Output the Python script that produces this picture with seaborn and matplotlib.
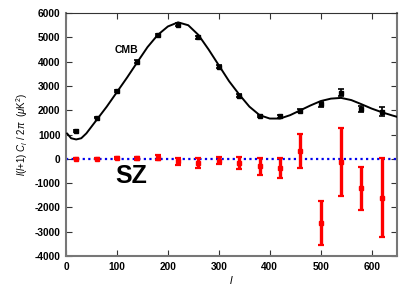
import matplotlib
matplotlib.use("Agg")
import matplotlib.pyplot as plt
import seaborn as sns
import pandas as pd
import numpy as np

# Band-power data
ell_bins = [20, 60, 100, 140, 180, 220, 260, 300, 340, 380, 420, 460, 500, 540, 580, 620]
cmb_vals = [1150, 1700, 2800, 4000, 5100, 5530, 5000, 3800, 2600, 1760, 1760, 1990, 2250, 2720, 2050, 1940]
cmb_errs = [30, 30, 40, 50, 60, 60, 60, 50, 50, 50, 60, 70, 100, 150, 130, 180]
sz_vals = [0, 0, 20, 30, 50, -100, -160, -80, -185, -300, -390, 320, -2630, -120, -1215, -1600]
sz_errs = [20, 20, 40, 60, 100, 150, 200, 150, 250, 350, 410, 690, 900, 1400, 900, 1620]

# Theory curve
curve_l = [2, 10, 20, 30, 40, 60, 80, 100, 120, 140, 160, 180, 200, 220, 240, 260, 280, 300,
           320, 340, 360, 380, 400, 420, 440, 460, 480, 500, 520, 540, 560, 580, 600, 620, 640, 650]
curve_v = [1050, 850, 800, 850, 1050, 1600, 2150, 2750, 3350, 3980, 4600, 5100, 5450, 5620, 5500,
           5100, 4500, 3850, 3200, 2650, 2150, 1800, 1660, 1660, 1800, 2000, 2200, 2380, 2480, 2510,
           2420, 2250, 2070, 1920, 1790, 1730]

xticks = [0, 100, 200, 300, 400, 500, 600]
yticks = [-4000, -3000, -2000, -1000, 0, 1000, 2000, 3000, 4000, 5000, 6000]

sns.set_theme(style="white")
plt.rcParams['font.family'] = ['Liberation Sans', 'DejaVu Sans']
plt.rcParams['mathtext.fontset'] = 'custom'
plt.rcParams['mathtext.rm'] = 'Liberation Sans'
plt.rcParams['mathtext.it'] = 'Liberation Sans:italic'
plt.rcParams['mathtext.bf'] = 'Liberation Sans:bold'
plt.rcParams['text.color'] = 'black'
plt.rcParams['axes.labelcolor'] = 'black'
plt.rcParams['xtick.color'] = 'black'
plt.rcParams['ytick.color'] = 'black'

fig = plt.figure(figsize=(4.15, 2.91), dpi=100)
ax = fig.add_axes([0.159, 0.120, 0.798, 0.835])

curve_df = pd.DataFrame({"l": curve_l, "v": curve_v})
sns.lineplot(data=curve_df, x="l", y="v", ax=ax, color="black", lw=1.4, zorder=3)

zero_df = pd.DataFrame({"l": [0, 650], "v": [0, 0]})
sns.lineplot(data=zero_df, x="l", y="v", ax=ax, color="#0000ee", lw=1.6,
             linestyle=(0, (1, 1.5)), zorder=2)

ax.errorbar(ell_bins, cmb_vals, yerr=cmb_errs, fmt="s", color="black", ms=3.5,
            elinewidth=1.2, capsize=2.5, capthick=1.2, zorder=4)
ax.errorbar(ell_bins, sz_vals, yerr=sz_errs, fmt="s", color="#ff0000", ms=3.5,
            elinewidth=2.4, capsize=2.5, capthick=1.6, zorder=5)

ax.set_xlim(0, 650)
ax.set_ylim(-4000, 6000)
ax.set_xticks(xticks)
ax.set_yticks(yticks)
ax.set_xticklabels([str(t) for t in xticks], fontweight="bold", fontsize=7.3)
ax.set_yticklabels([str(t) for t in yticks], fontweight="bold", fontsize=7.3)
ax.tick_params(direction="in", length=4, width=0.8, color="#333333",
               labelcolor="black",
               top=True, right=True, bottom=True, left=True, pad=4,
               labelbottom=True, labelleft=True)

for sp in ax.spines.values():
    sp.set_color("#777777")
    sp.set_linewidth(1.5)
    sp.set_visible(True)
ax.spines['top'].set_color("#333333")
ax.spines['top'].set_linewidth(0.8)

ax.set_xlabel(r"$l$", fontsize=8, labelpad=2, color="black")
ax.set_ylabel(r"$l(l$+1) $C_l$ / 2$\pi$  ($\mu$K$^2$)", fontsize=7, labelpad=3, color="black")

ax.text(96, 4500, "CMB", fontsize=7.5, fontweight="bold", va="center", ha="left",
        color="black", zorder=6)
ax.text(97, -710, "SZ", fontsize=18, fontweight="bold", va="center", ha="left",
        color="black", zorder=6)

fig.savefig("out.png", dpi=100)
